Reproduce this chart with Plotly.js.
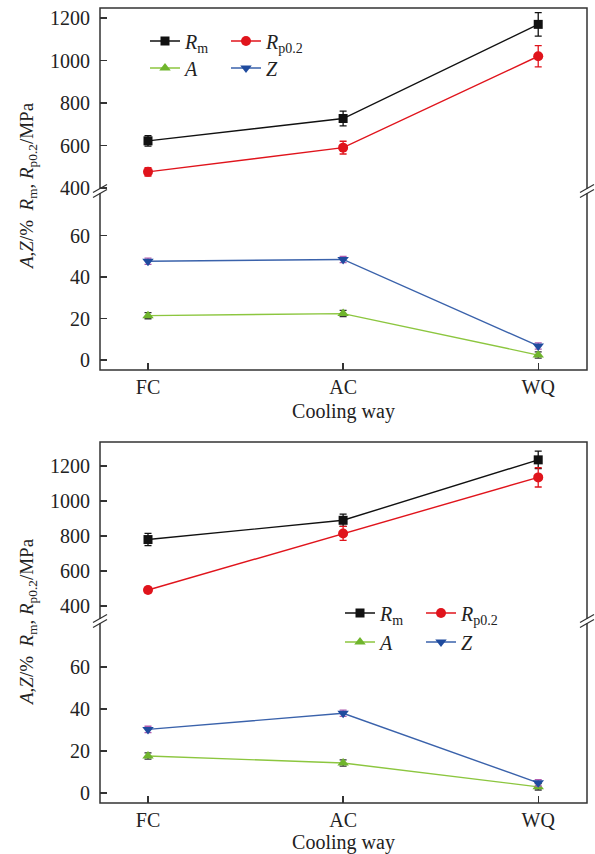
<!DOCTYPE html>
<html>
<head>
<meta charset="utf-8">
<script src="https://cdn.plot.ly/plotly-3.0.1.min.js"></script>
<style>html,body{margin:0;padding:0;background:#fff;}#chart{width:595px;height:854px;}</style>
</head>
<body>
<div id="chart"></div>
<script>
// ---------- data ----------
const coolingWays = ["FC", "AC", "WQ"];

// upper figure
const rm1 = [622, 727, 1170];
const rm1Err = [25, 35, 55];
const rp1 = [476, 590, 1020];
const rp1Err = [20, 30, 50];
const a1 = [21.4, 22.4, 2.4];
const a1Err = [1.5, 1.5, 1.5];
const z1 = [47.6, 48.5, 6.8];
const z1Err = [1.5, 1.5, 1.5];

// lower figure
const rm2 = [780, 890, 1235];
const rm2Err = [35, 35, 50];
const rp2 = [492, 815, 1135];
const rp2Err = [15, 40, 55];
const a2 = [17.6, 14.3, 2.9];
const a2Err = [1.5, 1.5, 1.5];
const z2 = [30.3, 38.0, 4.8];
const z2Err = [1.5, 1.5, 1.5];

const yTicksLow = [0, 20, 40, 60];
const yTicksHigh = [400, 600, 800, 1000, 1200];

const legendNames = {
  rm: "<i>R</i><sub>m</sub>",
  rp: "<i>R</i><sub>p0.2</sub>",
  a: "<i>A</i>",
  z: "<i>Z</i>"
};

// ---------- geometry helpers ----------
const W = 595, H = 854;
const px = v => v / W;
const py = v => 1 - v / H;

const FONT = "Liberation Serif, Times New Roman, serif";
const C = {
  rm: "#111111", rp: "#e0141c", aLine: "#8cc63f", aMark: "#6fb52c",
  zLine: "#3a62ab", zMark: "#1f4b9e", zErr: "#b05cb0", aErr: "#333333"
};

function mk(x, y, err, xa, ya, name, lineColor, markColor, symbol, size, errColor, legend) {
  return {
    type: "scatter", mode: "lines+markers", x: x, y: y, xaxis: xa, yaxis: ya,
    name: name, legend: legend,
    line: {color: lineColor, width: 1.4},
    marker: {color: markColor, symbol: symbol, size: size},
    error_y: {type: "data", array: err, visible: true, color: errColor, thickness: 1.3, width: 3.5}
  };
}

const data = [
  mk(coolingWays, rm1, rm1Err, "x", "y2", legendNames.rm, C.rm, C.rm, "square", 9, C.rm, "legend"),
  mk(coolingWays, rp1, rp1Err, "x", "y2", legendNames.rp, C.rp, C.rp, "circle", 10, C.rp, "legend"),
  mk(coolingWays, a1, a1Err, "x", "y", legendNames.a, C.aLine, C.aMark, "triangle-up", 10, C.aErr, "legend2"),
  mk(coolingWays, z1, z1Err, "x", "y", legendNames.z, C.zLine, C.zMark, "triangle-down", 10, C.zErr, "legend2"),
  mk(coolingWays, rm2, rm2Err, "x2", "y4", legendNames.rm, C.rm, C.rm, "square", 9, C.rm, "legend3"),
  mk(coolingWays, rp2, rp2Err, "x2", "y4", legendNames.rp, C.rp, C.rp, "circle", 10, C.rp, "legend3"),
  mk(coolingWays, a2, a2Err, "x2", "y3", legendNames.a, C.aLine, C.aMark, "triangle-up", 10, C.aErr, "legend4"),
  mk(coolingWays, z2, z2Err, "x2", "y3", legendNames.z, C.zLine, C.zMark, "triangle-down", 10, C.zErr, "legend4")
];

const tickFont = {family: FONT, size: 20, color: "#222"};
const xDom = [px(100), px(587)];

function xAx(anchor) {
  return {
    domain: xDom, anchor: anchor, type: "category", range: [-0.246, 2.25],
    showline: false, showgrid: false, zeroline: false,
    ticks: "inside", ticklen: 7, tickwidth: 1.4, tickcolor: "#333",
    tickfont: tickFont, fixedrange: true, ticklabelstandoff: 3,
    title: {text: "Cooling way", font: {family: FONT, size: 20, color: "#222"}, standoff: 6}
  };
}
function yAx(anchor, dom, range, vals) {
  return {
    domain: dom, anchor: anchor, range: range, tickvals: vals, ticktext: vals.map(String),
    showline: false, showgrid: false, zeroline: false,
    ticks: "inside", ticklen: 7, tickwidth: 1.4, tickcolor: "#333",
    tickfont: tickFont, fixedrange: true, ticklabelstandoff: 9
  };
}

function legendAt(xPix, yPix) {
  return {
    x: px(xPix), y: py(yPix), xanchor: "left", yanchor: "middle",
    orientation: "h", entrywidth: 36, entrywidthmode: "pixels",
    bgcolor: "rgba(0,0,0,0)", borderwidth: 0,
    font: {family: FONT, size: 20, color: "#222"}, itemwidth: 30
  };
}

// frames and axis-break marks
const shapes = [];
function frame(topPix, botPix) {
  shapes.push({type: "rect", xref: "paper", yref: "paper", x0: px(100), x1: px(587),
    y0: py(botPix), y1: py(topPix), line: {color: "#333", width: 1.5}});
}
function brk(xPix, yPix) {
  shapes.push({type: "rect", xref: "paper", yref: "paper", x0: px(xPix - 3), x1: px(xPix + 3),
    y0: py(yPix + 2), y1: py(yPix - 2), fillcolor: "#fff", line: {width: 0}});
  [-2.5, 2.5].forEach(d => {
    shapes.push({type: "line", xref: "paper", yref: "paper",
      x0: px(xPix - 7), y0: py(yPix + d + 4), x1: px(xPix + 7), y1: py(yPix + d - 4),
      line: {color: "#333", width: 1.3}});
  });
}
frame(8, 370);
frame(442, 803);
brk(100, 191); brk(587, 191);
brk(100, 621); brk(587, 621);

const yTitle = "<i>A</i>,<i>Z</i>/%  <i>R</i><sub>m</sub>, <i>R</i><sub>p0.2</sub>/MPa";
const annotations = [
  {text: yTitle, xref: "paper", yref: "paper", x: px(28), y: py(186), showarrow: false,
   textangle: -90, font: {family: FONT, size: 19, color: "#222"}, xanchor: "center", yanchor: "middle"},
  {text: yTitle, xref: "paper", yref: "paper", x: px(28), y: py(622), showarrow: false,
   textangle: -90, font: {family: FONT, size: 19, color: "#222"}, xanchor: "center", yanchor: "middle"}
];

const layout = {
  width: W, height: H, margin: {l: 0, r: 0, t: 0, b: 0},
  paper_bgcolor: "#fff", plot_bgcolor: "rgba(0,0,0,0)",
  font: {family: FONT, size: 20, color: "#222"},
  showlegend: true,
  xaxis: xAx("y"),
  yaxis: yAx("x", [py(370), py(191)], [-4.8, 81.5], yTicksLow),
  yaxis2: yAx("x", [py(191), py(8)], [386, 1247], yTicksHigh),
  xaxis2: xAx("y3"),
  yaxis3: yAx("x2", [py(803), py(621)], [-4.8, 82], yTicksLow),
  yaxis4: yAx("x2", [py(621), py(442)], [315, 1337], yTicksHigh),
  legend: legendAt(145, 41),
  legend2: legendAt(145, 68),
  legend3: legendAt(340, 613),
  legend4: legendAt(340, 642),
  shapes: shapes,
  annotations: annotations
};

Plotly.newPlot("chart", data, layout, {staticPlot: true, displayModeBar: false});
</script>
</body>
</html>
